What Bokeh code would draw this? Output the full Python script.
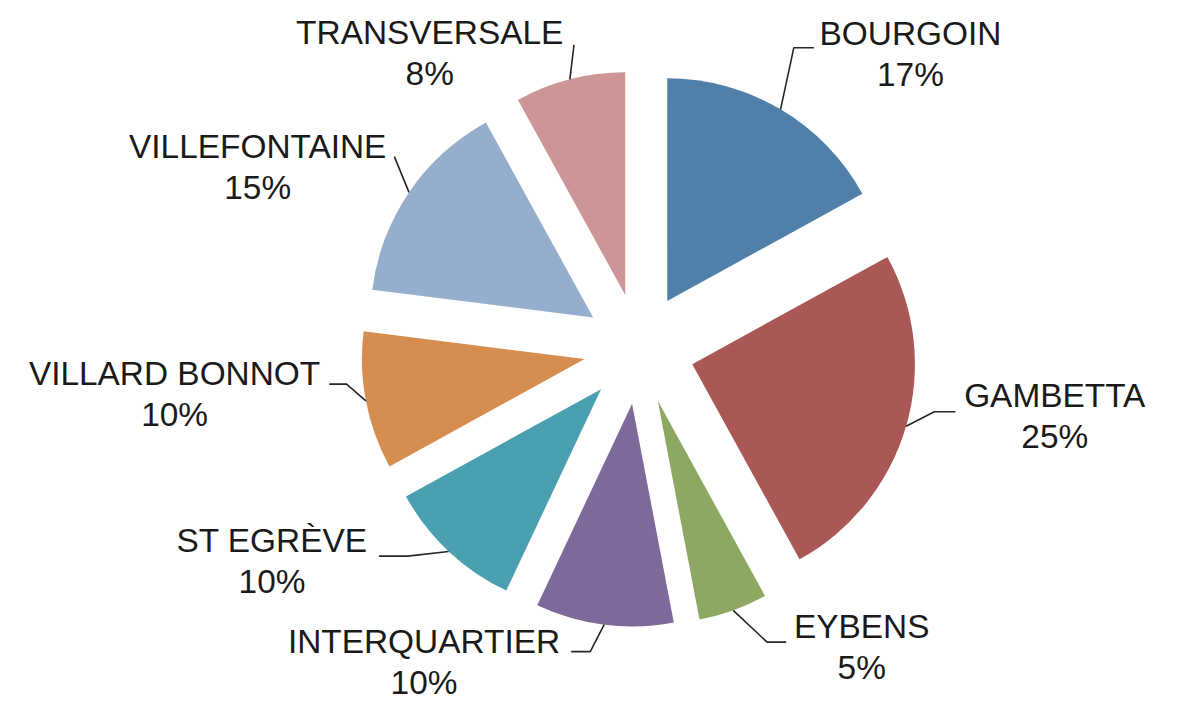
import numpy as np
from bokeh.plotting import figure
from bokeh.models import Range1d, ColumnDataSource
from bokeh.core.properties import value
from bokeh.embed import file_html
from bokeh.resources import INLINE

# ---- data ----
categories = ["BOURGOIN", "GAMBETTA", "EYBENS", "INTERQUARTIER",
              "ST EGRÈVE", "VILLARD BONNOT", "VILLEFONTAINE", "TRANSVERSALE"]
shares = [17, 25, 5, 10, 10, 10, 15, 8]
colors = ["#5080AA", "#AA5855", "#8CA862", "#7D6A9B",
          "#4AA0B1", "#D68E50", "#96AECD", "#CC9696"]

# ---- layout (reference pixel coords, y downward, converted below) ----
W, H = 1170, 706
REF_W, REF_H = 1186, 722
PAD_Y = 8                          # vertical breathing room (px)
S = (H - 2 * PAD_Y) / REF_H        # uniform scale so everything fits
PAD_X = (W - REF_W * S) / 2
CX, CY = 649, 356          # pie centre
R = 233                    # radius
EXPLODE = 58               # explosion distance
FONT_PX = 35
LINE_GAP = 43
TEXT_SHIFT = 13            # compensates the renderer's baseline placement

# label name baseline positions (centre x, baseline y)
label_pos = [(933, 39), (1084, 418), (882, 660), (424, 675),
             (265, 570), (163, 395), (250, 157), (430, 38)]
# leader line knee and end points
leader_knee = [(811, 41), (958, 422), (783, 663), (598, 673),
               (407, 573), (343, 393), (393, 155), (581, 38)]
leader_end = [(832, 41), (980, 422), (803, 663), (578, 673),
              (377, 573), (325, 393), (393, 155), (581, 38)]


def Y(y):
    return REF_H - y


def X(x):
    return x


vals = np.array(shares, dtype=float)
frac = vals / vals.sum()
cum = np.concatenate([[0], np.cumsum(frac)])
a0 = cum[:-1]
a1 = cum[1:]
start_deg = 90 - 360 * a1
end_deg = 90 - 360 * a0
mid = np.radians(90 - 360 * (a0 + a1) / 2)

cx_data = X(CX) + EXPLODE * np.cos(mid)
cy_data = Y(CY) + EXPLODE * np.sin(mid)

src = ColumnDataSource(dict(
    x=cx_data, y=cy_data,
    start=np.radians(start_deg), end=np.radians(end_deg),
    color=colors, name=categories,
))

p = figure(width=W, height=H, output_backend="svg", toolbar_location=None,
           x_range=Range1d(-PAD_X / S, (W - PAD_X) / S),
           y_range=Range1d(-PAD_Y / S, (H - PAD_Y) / S),
           min_border=0, min_border_left=0, min_border_right=0,
           min_border_top=0, min_border_bottom=0)
p.axis.visible = False
p.xgrid.visible = False
p.ygrid.visible = False
p.outline_line_color = None
p.background_fill_color = "white"
p.border_fill_color = "white"

p.wedge(x="x", y="y", radius=R, start_angle="start", end_angle="end",
        fill_color="color", line_color=None, source=src)

# leader lines: arc midpoint -> knee -> end
xs, ys = [], []
for i in range(len(categories)):
    ax = cx_data[i] + R * np.cos(mid[i])
    ay = cy_data[i] + R * np.sin(mid[i])
    kx, ky = leader_knee[i]
    ex, ey = leader_end[i]
    xs.append([ax, X(kx), X(ex)])
    ys.append([ay, Y(ky), Y(ey)])
p.multi_line(xs=xs, ys=ys, line_color="#262626", line_width=1.6)

pct = [f"{int(round(f * 100))}%" for f in frac]
lx = [X(px) for px, py in label_pos]
ly_name = [Y(py - TEXT_SHIFT) for px, py in label_pos]
ly_pct = [Y(py + LINE_GAP - TEXT_SHIFT) for px, py in label_pos]

fs = f"{FONT_PX * S:.1f}px"
p.text(x=lx, y=ly_name, text=categories, text_font=value("Liberation Sans"),
       text_font_size=fs, text_align="center",
       text_baseline="alphabetic", text_color="#1a1a1a")
p.text(x=lx, y=ly_pct, text=pct, text_font=value("Liberation Sans"),
       text_font_size=fs, text_align="center",
       text_baseline="alphabetic", text_color="#1a1a1a")

open("out.html", "w").write(file_html(p, INLINE))
